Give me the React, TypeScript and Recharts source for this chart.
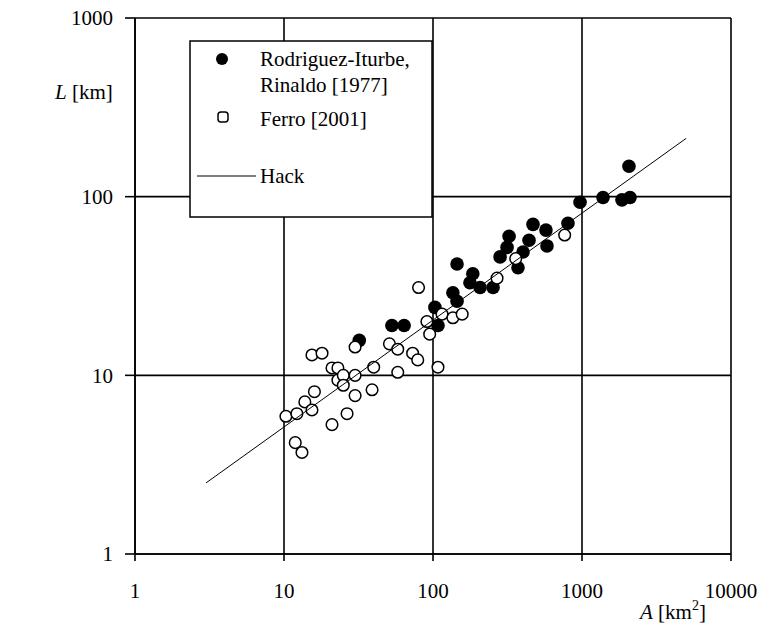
import React from 'react';
import { ScatterChart, Scatter, XAxis, YAxis, CartesianGrid } from 'recharts';

// decade ticks on both log axes
const xTicks = [1, 10, 100, 1000, 10000];
const yTicks = [1, 10, 100, 1000];

// Rodriguez-Iturbe, Rinaldo [1977]: area A [km2] and length L [km]
const rodriguezA = [32, 53, 64, 103, 108, 136, 145, 145, 177, 185, 207, 253, 282, 314, 324, 372, 402, 441, 469, 573, 582, 805, 970, 1384, 1854, 2100, 2066];
const rodriguezL = [15.7, 19, 19, 24, 19, 29, 26, 42, 33, 37, 31, 31, 46, 52, 60, 40, 49, 57, 70, 65, 53, 71, 93, 99, 96, 99, 148];

// Ferro [2001]
const ferroA = [10.3, 11.9, 13.2, 12.2, 13.8, 15.4, 16, 15.4, 18, 21, 21, 23, 23, 25, 25, 26.5, 30, 30, 30, 39, 40, 51, 58, 58, 73, 79, 80, 91, 95, 108, 115, 136, 157, 269, 359, 765];
const ferroL = [5.9, 4.2, 3.7, 6.1, 7.1, 6.4, 8.1, 13, 13.3, 11, 5.3, 9.4, 11, 10, 8.8, 6.1, 7.7, 10, 14.4, 8.3, 11.1, 15, 14, 10.4, 13.3, 12.2, 31, 20, 17, 11.1, 22, 21, 22, 35, 45, 61];

// Hack's law line, end points
const hackA = [3, 5000];
const hackL = [2.5, 212];

const rodriguezData = rodriguezA.map((a, i) => ({ a, l: rodriguezL[i] }));
const ferroData = ferroA.map((a, i) => ({ a, l: ferroL[i] }));
const hackData = hackA.map((a, i) => ({ a, l: hackL[i] }));

const FONT = '"Liberation Serif", "DejaVu Serif", serif';
const tickStyle = { fill: '#000', fontSize: 21, fontFamily: FONT };

const FilledDot = (props: any) => <circle cx={props.cx} cy={props.cy} r={6.8} fill="#000" />;
const OpenDot = (props: any) => (
  <circle cx={props.cx} cy={props.cy} r={5.8} fill="#fff" stroke="#000" strokeWidth={1.5} />
);
const NoDot = () => <g />;

export default function App() {
  // the wrapper cancels the body margin so chart pixels equal page pixels
  return (
    <div style={{ position: 'relative', width: 773, height: 631, margin: -8 }}>
      <ScatterChart width={773} height={631} margin={{ top: 18, right: 42, bottom: 47, left: 75 }}>
        <CartesianGrid stroke="#000" strokeWidth={1.6} />
        <XAxis
          type="number"
          dataKey="a"
          scale="log"
          domain={[1, 10000]}
          ticks={xTicks}
          interval={0}
          allowDataOverflow
          axisLine={{ stroke: '#000', strokeWidth: 1.6 }}
          tickLine={{ stroke: '#000', strokeWidth: 1.6 }}
          tickSize={7}
          tickMargin={22}
          tick={tickStyle}
        />
        <YAxis
          type="number"
          dataKey="l"
          scale="log"
          domain={[1, 1000]}
          ticks={yTicks}
          interval={0}
          allowDataOverflow
          width={60}
          axisLine={{ stroke: '#000', strokeWidth: 1.6 }}
          tickLine={{ stroke: '#000', strokeWidth: 1.6 }}
          tickSize={10}
          tickMargin={12}
          tick={tickStyle}
        />
        <Scatter data={rodriguezData} shape={FilledDot} isAnimationActive={false} />
        <Scatter data={ferroData} shape={OpenDot} isAnimationActive={false} />
        <Scatter
          data={hackData}
          shape={NoDot}
          line={{ stroke: '#000', strokeWidth: 1 }}
          isAnimationActive={false}
        />
      </ScatterChart>

      {/* legend box and axis titles */}
      <svg
        width={773}
        height={631}
        style={{ position: 'absolute', left: 0, top: 0, pointerEvents: 'none' }}
      >
        <g fontFamily={FONT} fontSize={21} fill="#000">
          <rect x={190} y={41} width={242} height={176} fill="#fff" stroke="#000" strokeWidth={1.5} />
          <circle cx={222} cy={59} r={6} fill="#000" />
          <text x={260} y={66}>Rodriguez-Iturbe,</text>
          <text x={260} y={92}>Rinaldo [1977]</text>
          <rect x={218} y={112} width={10} height={10} rx={3} fill="#fff" stroke="#000" strokeWidth={1.5} />
          <text x={260} y={126}>Ferro [2001]</text>
          <line x1={197} x2={256} y1={176} y2={176} stroke="#000" strokeWidth={1.2} />
          <text x={260} y={183}>Hack</text>

          <text x={55} y={99}>
            <tspan fontStyle="italic">L</tspan> [km]
          </text>
          <text x={640} y={619}>
            <tspan fontStyle="italic">A</tspan> [km
            <tspan fontSize={14} dy={-9}>2</tspan>
            <tspan dy={9}>]</tspan>
          </text>
        </g>
      </svg>
    </div>
  );
}
